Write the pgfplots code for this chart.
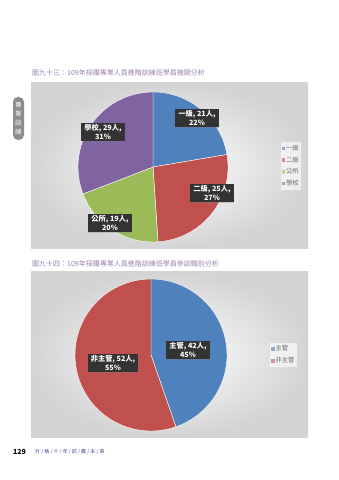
\documentclass[border=0pt]{standalone}
\usepackage{fontspec}
\setmainfont{Noto Sans CJK TC}
\newfontfamily\cjk{Noto Sans CJK TC}
\usepackage{pgfplots}
\usepackage{pgfplotstable}
\pgfplotsset{compat=1.18}
\usetikzlibrary{shadows}

\definecolor{pA0}{HTML}{4F81BD}
\definecolor{pA1}{HTML}{C0504D}
\definecolor{pA2}{HTML}{9BBB59}
\definecolor{pA3}{HTML}{8064A2}
\definecolor{pB0}{HTML}{4F81BD}
\definecolor{pB1}{HTML}{C0504D}
\definecolor{titlec}{HTML}{9A82B0}
\definecolor{footc}{HTML}{3B4A8C}
\definecolor{legc}{HTML}{6A6A6A}

% chart 1: 一級, 二級, 公所, 學校
\pgfplotstableread{
idx value
0 21
1 25
2 19
3 29
}\pieA
% chart 2: 主管, 非主管
\pgfplotstableread{
idx value
0 42
1 52
}\pieB

\makeatletter
\newcommand\pieangles[2]{%
  \pgfplotstablegetrowsof{#1}%
  \pgfmathtruncatemacro\pie@n{\pgfplotsretval-1}%
  \def\pie@tot{0}%
  \pgfplotsforeachungrouped \pie@i in {0,...,\pie@n}{%
    \pgfplotstablegetelem{\pie@i}{value}\of#1%
    \pgfmathsetmacro\pie@tot{\pie@tot+\pgfplotsretval}%
  }%
  \def\pie@cum{0}%
  \pgfplotsforeachungrouped \pie@i in {0,...,\pie@n}{%
    \pgfplotstablegetelem{\pie@i}{value}\of#1%
    \pgfmathsetmacro\pie@s{90-(\pie@cum/\pie@tot)*360}%
    \pgfmathsetmacro\pie@cum{\pie@cum+\pgfplotsretval}%
    \pgfmathsetmacro\pie@e{90-(\pie@cum/\pie@tot)*360}%
    \expandafter\xdef\csname #2s\pie@i\endcsname{\pie@s}%
    \expandafter\xdef\csname #2e\pie@i\endcsname{\pie@e}%
  }%
}
\makeatother

\tikzset{lbl/.style={fill=black!80, text=white, align=center, inner xsep=3pt, inner ysep=2pt,
  font=\cjk\bfseries\fontsize{7.2}{8.4}\selectfont,
  drop shadow={shadow xshift=0.8pt, shadow yshift=-0.8pt, opacity=0.35}}}
\pgfplotsset{pielegend/.style={
  legend image code/.code={\fill[##1] (0pt,-1.7pt) rectangle (3.4pt,1.7pt);},
  legend cell align=left,
  legend style={draw=none, fill=white, fill opacity=0.6, text opacity=1, text=legc,
    font=\cjk\fontsize{6.3}{7}\selectfont, row sep=3.6pt, nodes={inner sep=0.7pt},
    inner xsep=1.5pt, inner ysep=2pt}}}

\begin{document}
\pieangles{\pieA}{A}%
\pieangles{\pieB}{B}%
\begin{tikzpicture}[x=1pt,y=1pt]
\useasboundingbox (0,0) rectangle (339,480);
\fill[white] (0,0) rectangle (339,480);

% side tab
\fill[black!45, rounded corners=5pt] (13,340) rectangle (24,383);
\node[text=white, align=center, font=\cjk\fontsize{6.5}{9}\selectfont] at (18.5,361.5) {專\\業\\訓\\練};

% titles
\node[anchor=west, text=titlec, font=\cjk\fontsize{7}{8}\selectfont, inner sep=0] at (32,407) {圖九十三：109年採購專業人員進階訓練班學員機關分析};
\node[anchor=west, text=titlec, font=\cjk\fontsize{7}{8}\selectfont, inner sep=0] at (32,216) {圖九十四：109年採購專業人員進階訓練班學員參訓職別分析};

% chart frames
\shade[inner color=white, outer color=black!17] (31,231) rectangle (308,397);
\shade[inner color=white, outer color=black!17] (31,42) rectangle (308,208);

\begin{axis}[at={(31pt,231pt)}, anchor=south west, width=277pt, height=166pt, scale only axis,
  xmin=31, xmax=308, ymin=231, ymax=397, hide axis, clip=false, pielegend,
  legend style={at={(0.9,0.5)}, anchor=west}]
\addlegendimage{draw=none, fill=pA0}\addlegendentry{一級}
\addlegendimage{draw=none, fill=pA1}\addlegendentry{二級}
\addlegendimage{draw=none, fill=pA2}\addlegendentry{公所}
\addlegendimage{draw=none, fill=pA3}\addlegendentry{學校}
\pgfplotsinvokeforeach{0,1,2,3}{
  \fill[pA#1, draw=white, line width=0.4pt] (axis cs:153,313) -- ++(\csname As#1\endcsname:75pt)
    arc[start angle=\csname As#1\endcsname, end angle=\csname Ae#1\endcsname, radius=75pt] -- cycle;
}
\node[lbl] at (axis cs:197,362) {一級, 21人,\\22\%};
\node[lbl] at (axis cs:212,287) {二級, 25人,\\27\%};
\node[lbl] at (axis cs:110,257) {公所, 19人,\\20\%};
\node[lbl] at (axis cs:103,348) {學校, 29人,\\31\%};
\end{axis}

\begin{axis}[at={(31pt,42pt)}, anchor=south west, width=277pt, height=166pt, scale only axis,
  xmin=31, xmax=308, ymin=42, ymax=208, hide axis, clip=false, pielegend,
  legend style={at={(0.862,0.5)}, anchor=west}]
\addlegendimage{draw=none, fill=pB0}\addlegendentry{主管}
\addlegendimage{draw=none, fill=pB1}\addlegendentry{非主管}
\pgfplotsinvokeforeach{0,1}{
  \fill[pB#1, draw=white, line width=0.4pt] (axis cs:151,125) -- ++(\csname Bs#1\endcsname:76pt)
    arc[start angle=\csname Bs#1\endcsname, end angle=\csname Be#1\endcsname, radius=76pt] -- cycle;
}
\node[lbl] at (axis cs:188,130) {主管, 42人,\\45\%};
\node[lbl] at (axis cs:113,117) {非主管, 52人,\\55\%};
\end{axis}

% footer
\node[anchor=west, inner sep=0, font=\fontsize{7}{8}\selectfont\bfseries] at (13,28) {129};
\node[anchor=west, inner sep=0, text=footc, font=\cjk\fontsize{5}{6}\selectfont] at (35,28) {升 / 格 / 十 / 年 / 前 / 瞻 / 未 / 來};
\end{tikzpicture}
\end{document}
